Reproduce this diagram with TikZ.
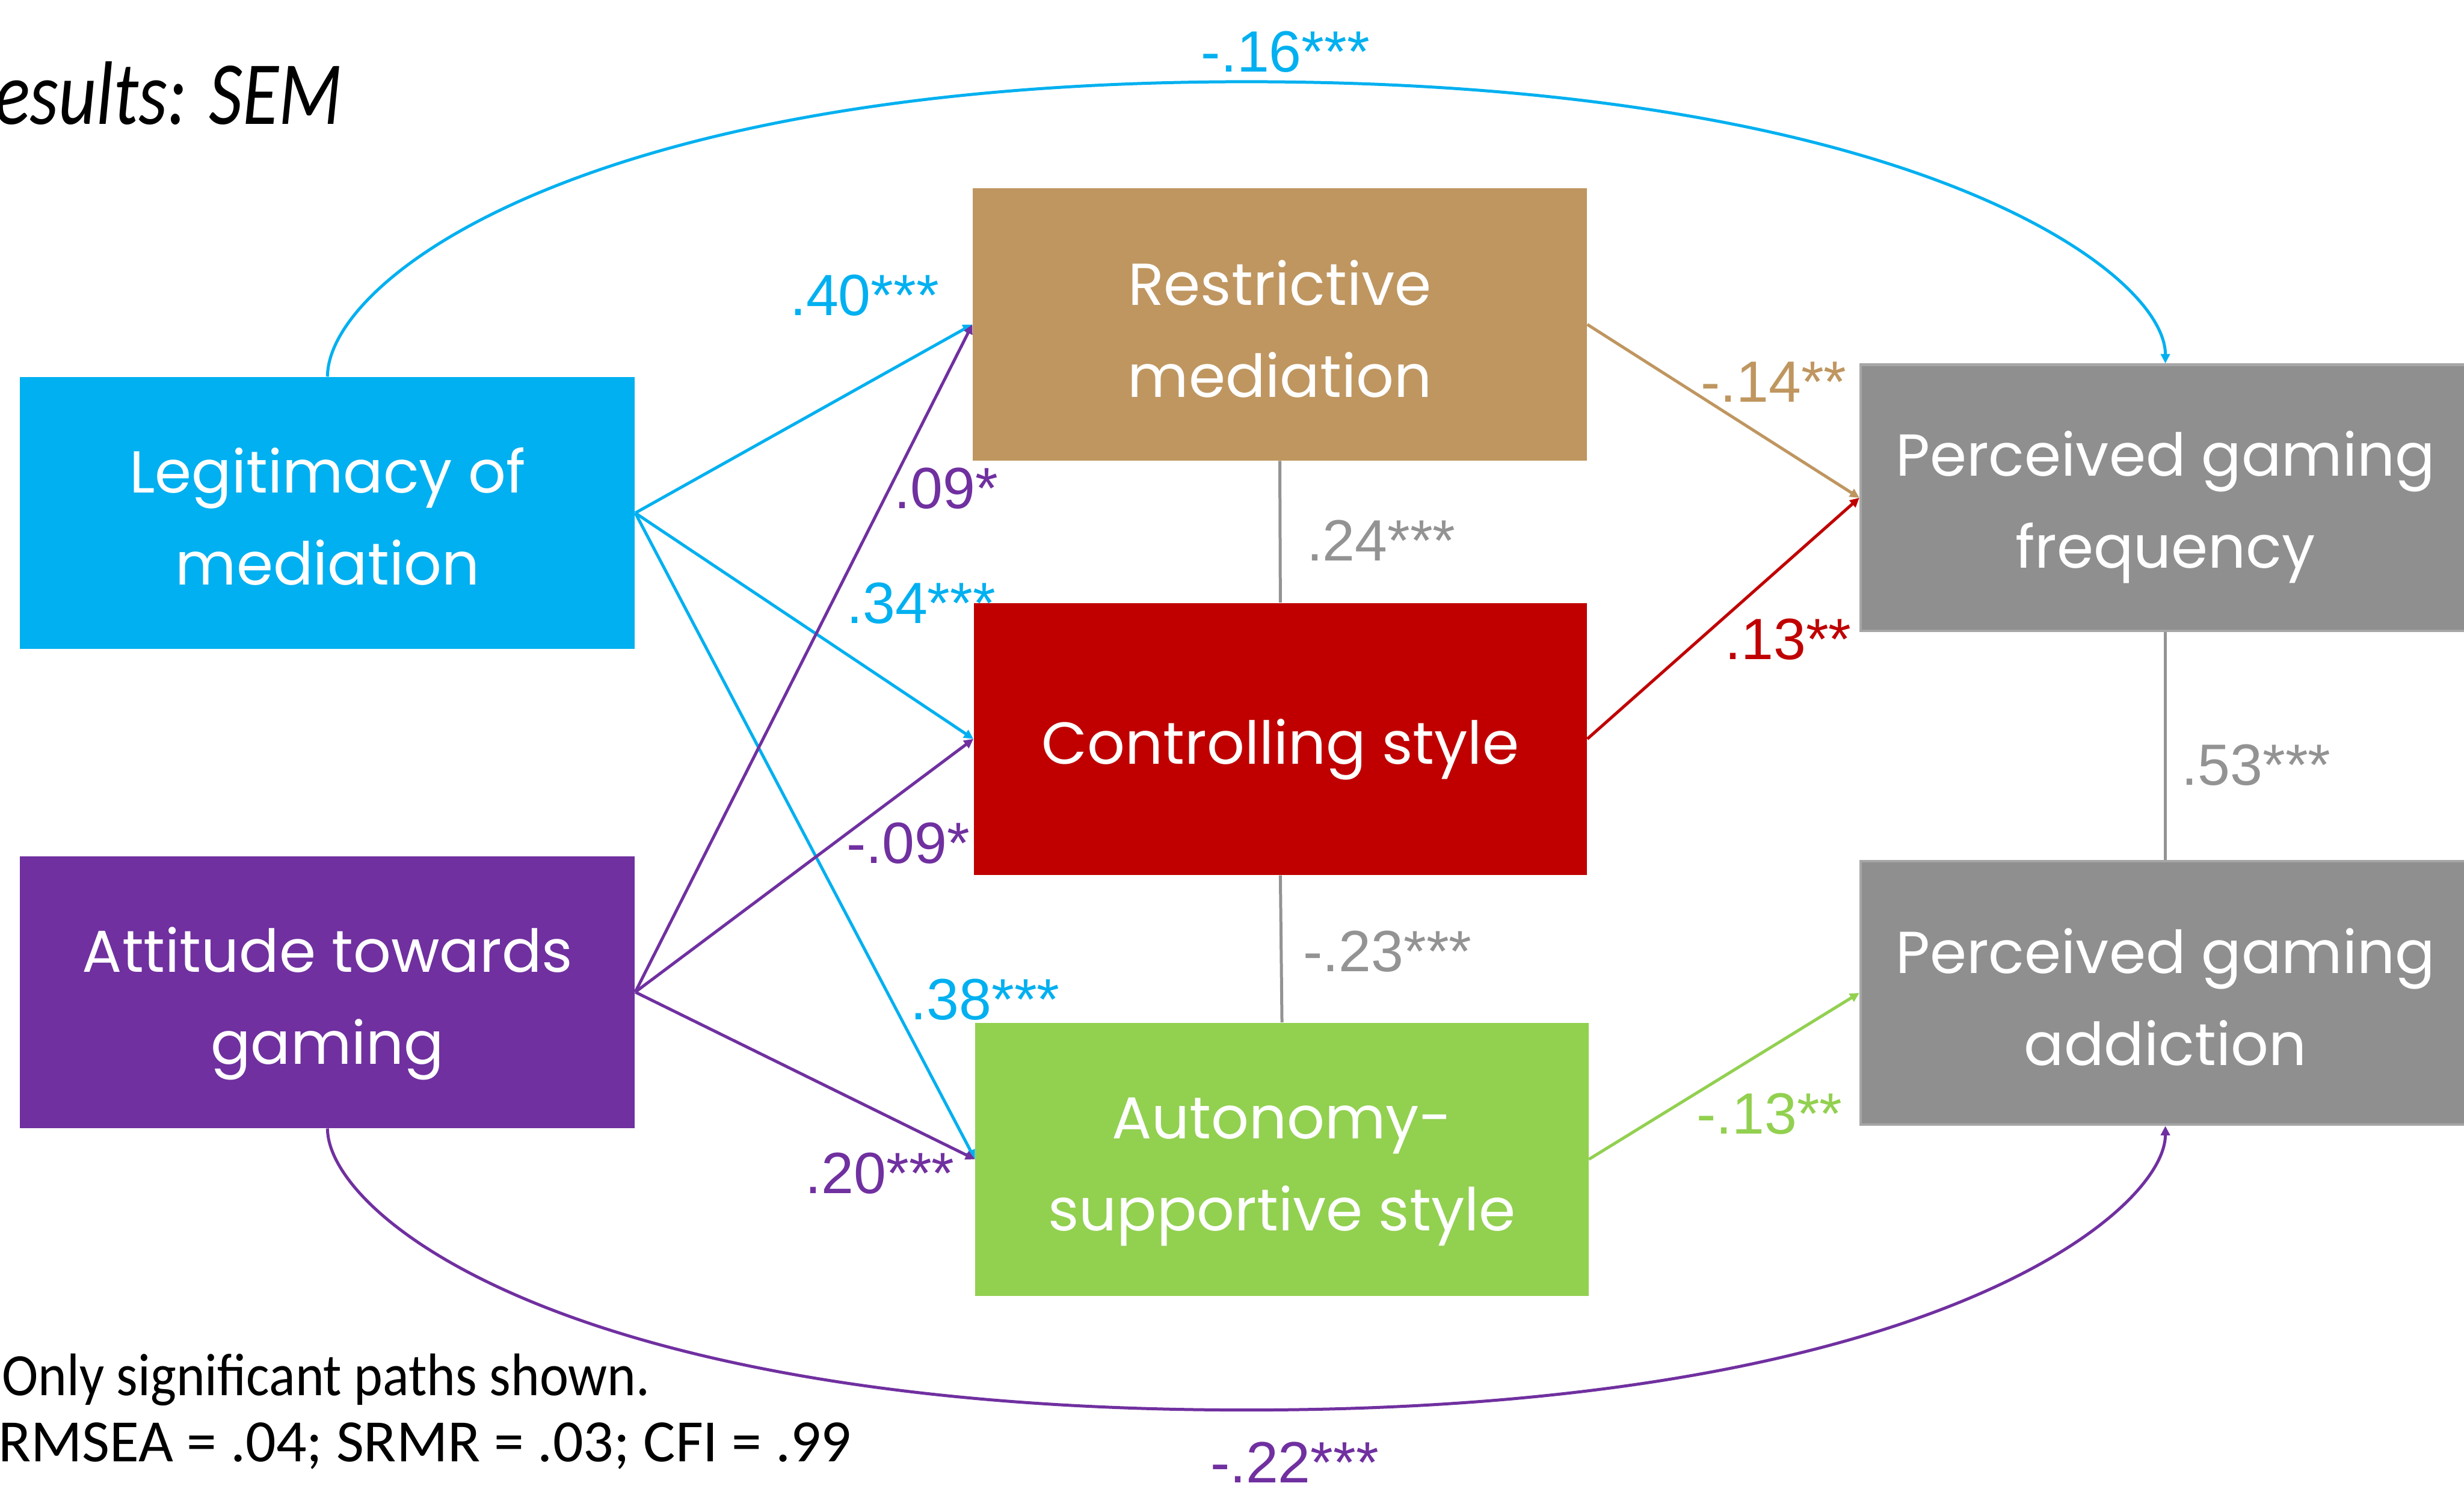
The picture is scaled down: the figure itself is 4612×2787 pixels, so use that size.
\documentclass[tikz,border=0pt]{standalone}
\usepackage{fontspec}
\usepackage{graphicx}
\usetikzlibrary{arrows.meta}
\setmainfont{Liberation Sans}
\newfontfamily\boxfont{Poppins}
\newfontfamily\labfont{Liberation Sans}
\newfontfamily\notefont{Carlito}
\definecolor{cblue}{HTML}{00B0F0}
\definecolor{cpurple}{HTML}{7030A0}
\definecolor{ctan}{HTML}{BF9660}
\definecolor{cred}{HTML}{C00000}
\definecolor{cgreen}{HTML}{92D050}
\definecolor{cgraybox}{HTML}{8F8F8F}
\definecolor{cgrayedge}{HTML}{A6A6A6}
\definecolor{cgrayline}{HTML}{939393}
\begin{document}
\begin{tikzpicture}[x=0.01cm, y=-0.01cm,
  box/.style={rectangle, inner sep=0pt},
  gbox/.style={box, fill=cgraybox, draw=cgrayedge, line width=1.4pt},
  boxtext/.style={inner sep=0pt, text=white, align=center,
    font=\boxfont\fontsize{31.5}{49}\selectfont},
  lab/.style={inner sep=0pt, font=\labfont\fontsize{31}{31}\selectfont},
  pathar/.style={line width=1.6pt, -{Triangle[length=5pt,width=4.8pt]}},
  corr/.style={line width=1.6pt, draw=cgrayline},
  note/.style={inner sep=0pt, anchor=base west, font=\notefont\fontsize{32}{32}\selectfont}
]
\useasboundingbox (0,0) rectangle (4612,2787);
\clip (0,0) rectangle (4612,2787);

% boxes
\node[box, fill=cblue, minimum width=11.5cm, minimum height=5.09cm] (legit) at (613,960.5) {};
\node[box, fill=cpurple, minimum width=11.5cm, minimum height=5.09cm] (att) at (613,1857.5) {};
\node[box, fill=ctan, minimum width=11.49cm, minimum height=5.09cm] (restr) at (2395.5,607.5) {};
\node[box, fill=cred, minimum width=11.47cm, minimum height=5.09cm] (ctrl) at (2396.5,1383.5) {};
\node[box, fill=cgreen, minimum width=11.47cm, minimum height=5.11cm] (auto) at (2399.5,2170.5) {};
\node[gbox, minimum width=11.40cm, minimum height=4.98cm] (freq) at (4053,932) {};
\node[gbox, minimum width=11.40cm, minimum height=4.93cm] (addict) at (4053,1859) {};

% box texts
\node[boxtext] (legitT) at ([yshift=-6*0.01cm]legit.center) {Legitimacy of\\mediation};
\node[boxtext] (attT) at ([yshift=-22*0.01cm]att.center) {Attitude towards\\gaming};
\node[boxtext] (restrT) at ([yshift=-8*0.01cm]restr.center) {Restrictive\\mediation};
\node[boxtext] (ctrlT) at ([yshift=-20*0.01cm]ctrl.center) {Controlling style};
\node[boxtext] (autoT) at ([yshift=-24*0.01cm]auto.center) {Autonomy-\\supportive style};
\node[boxtext] (freqT) at ([yshift=-18*0.01cm]freq.center) {Perceived gaming\\frequency};
\node[boxtext] (addictT) at ([yshift=-8*0.01cm]addict.center) {Perceived gaming\\addiction};

% title and notes
\node[inner sep=0pt, anchor=base east, font=\notefont\itshape\fontsize{48}{48}\selectfont] (title) at (641,232) {\scalebox{0.82}[1]{Results: SEM}};
\node[note] (note1) at (3,2613) {\scalebox{0.91}[1]{Only significant paths shown.}};
\node[note] (note2) at (-4,2737) {RMSEA = .04; SRMR = .03; CFI = .99};

% correlations
\draw[corr] (restr.south) -- (ctrl.north);
\draw[corr] (ctrl.south) -- (auto.north);
\draw[corr] (freq.south) -- (addict.north);

% straight paths
\draw[pathar, cblue] (legit.east) -- (restr.west);
\draw[pathar, cblue] (legit.east) -- (ctrl.west);
\draw[pathar, cblue] (legit.east) -- (auto.west);
\draw[pathar, cpurple] (att.east) -- (restr.west);
\draw[pathar, cpurple] (att.east) -- (ctrl.west);
\draw[pathar, cpurple] (att.east) -- (auto.west);
\draw[pathar, ctan] (restr.east) -- (freq.west);
\draw[pathar, cred] (ctrl.east) -- (freq.west);
\draw[pathar, cgreen] (auto.east) -- (addict.west);

% curved paths
\coordinate (topapex) at (2333,153);
\coordinate (botapex) at (2333,2640);
\draw[pathar, cblue] (legit.north) .. controls +(0,-182) and +(-1238,0) .. (topapex)
  .. controls +(1238,0) and +(0,-173) .. (freq.north);
\draw[pathar, cpurple] (att.south) .. controls +(0,160) and +(-1280,0) .. (botapex)
  .. controls +(1280,0) and +(0,160) .. (addict.south);

% labels
\node[lab, text=cblue] (l1) at (2406,97) {-.16***};
\node[lab, text=cblue] (l2) at (1618,553) {.40***};
\node[lab, text=cpurple] (l3) at (1771,915) {.09*};
\node[lab, text=cblue] (l4) at (1724,1130) {.34***};
\node[lab, text=cpurple] (l5) at (1700,1579) {-.09*};
\node[lab, text=cblue] (l6) at (1844,1871) {.38***};
\node[lab, text=cpurple] (l7) at (1647,2197) {.20***};
\node[lab, text=cgrayline] (l8) at (2585,1012) {.24***};
\node[lab, text=cgrayline] (l9) at (2597,1782) {-.23***};
\node[lab, text=ctan] (l10) at (3320,715) {-.14**};
\node[lab, text=cred] (l11) at (3347,1197) {.13**};
\node[lab, text=cgrayline] (l12) at (4223,1432) {.53***};
\node[lab, text=cgreen] (l13) at (3312,2085) {-.13**};
\node[lab, text=cpurple] (l14) at (2423,2738) {-.22***};
\end{tikzpicture}
\end{document}
